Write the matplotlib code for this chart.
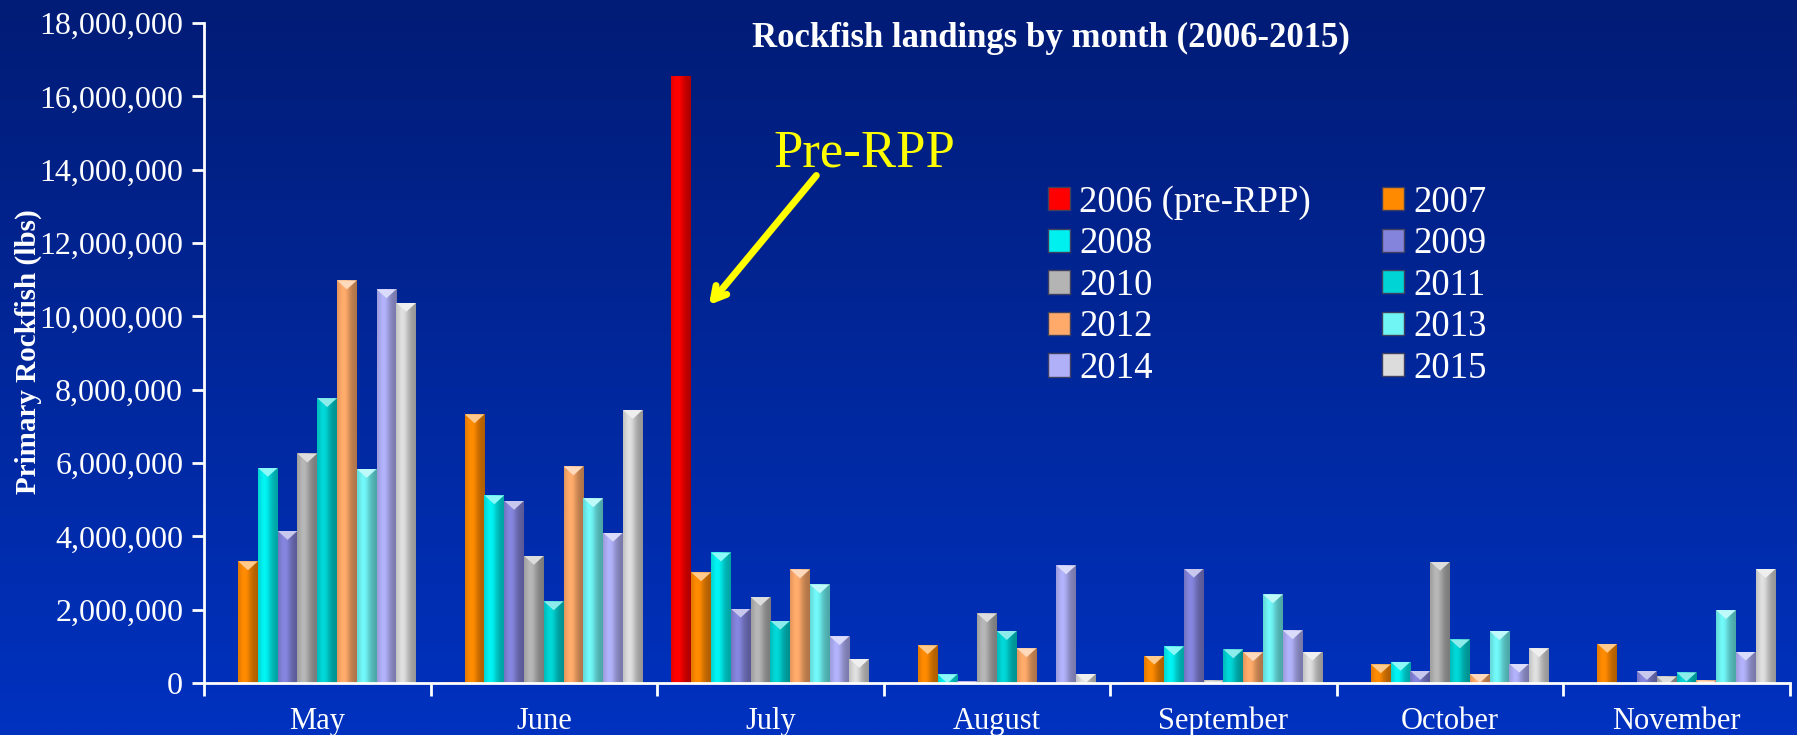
import numpy as np
import matplotlib
matplotlib.use("Agg")
import matplotlib.pyplot as plt
from matplotlib.patches import Patch, Polygon
from matplotlib.ticker import FuncFormatter, FixedLocator
from matplotlib.colors import to_rgb

plt.rcParams['font.family'] = ['Liberation Serif', 'DejaVu Serif']

months = ["May", "June", "July", "August", "September", "October", "November"]
years = ["2006 (pre-RPP)", "2007", "2008", "2009", "2010",
         "2011", "2012", "2013", "2014", "2015"]
colors = ["#ff0000", "#ff8a00", "#00f0f0", "#8484dc", "#b4b4b4",
          "#00d4d4", "#ffaa6a", "#70f4f4", "#b0b0f8", "#dcdcdc"]

# landings (lbs), one list per year, values by month May..November
y2006 = [15000, 15000, 16550000, 15000, 15000, 15000, 0]
y2007 = [3320000, 7330000, 3020000, 1030000, 750000, 510000, 1070000]
y2008 = [5870000, 5120000, 3560000, 240000, 1000000, 580000, 0]
y2009 = [4150000, 4970000, 2030000, 50000, 3120000, 330000, 330000]
y2010 = [6260000, 3470000, 2350000, 1900000, 70000, 3310000, 180000]
y2011 = [7770000, 2230000, 1700000, 1420000, 920000, 1190000, 290000]
y2012 = [10980000, 5910000, 3100000, 950000, 840000, 250000, 70000]
y2013 = [5840000, 5040000, 2690000, 0, 2420000, 1420000, 1990000]
y2014 = [10740000, 4100000, 1280000, 3210000, 1440000, 530000, 860000]
y2015 = [10370000, 7450000, 660000, 250000, 860000, 950000, 3110000]
series = [y2006, y2007, y2008, y2009, y2010, y2011, y2012, y2013, y2014, y2015]

fig = plt.figure(figsize=(17.97, 7.35), dpi=100)

# background gradient
bg = fig.add_axes([0, 0, 1, 1], zorder=-10)
top_c = np.array([2, 28, 118]) / 255
bot_c = np.array([0, 50, 192]) / 255
t = np.linspace(0, 1, 256)[:, None]
grad = top_c[None, :] * (1 - t) + bot_c[None, :] * t
bg.imshow(grad[:, None, :], aspect='auto', extent=[0, 1, 0, 1])
bg.axis('off')

ax = fig.add_axes([0.1135, 0.0707, 0.8825, 0.898])
ax.set_facecolor('none')
ymax = 18000000
ax.set_xlim(-0.5, len(months) - 0.5)
ax.set_ylim(0, ymax)

x = np.arange(len(months))
w = 0.0873
n = len(series)
shade = np.linspace(0, 1, 64)
bevel = ymax * 9 / 660  # ~9 px deep cap
for i, (vals, c) in enumerate(zip(series, colors)):
    pos = x + (i - (n - 1) / 2) * w
    bars = ax.bar(pos, vals, width=w, color=c, edgecolor='none', zorder=2)
    base = np.array(to_rgb(c))
    # horizontal shading to fake the 3D look
    prof = 0.82 + 0.25 * np.exp(-((shade - 0.35) / 0.3) ** 2) - 0.14 * shade
    img = np.clip(base[None, :] * prof[:, None], 0, 1)[None, :, :]
    light = base + (1 - base) * 0.55
    for b in bars:
        h = b.get_height()
        if h <= 0:
            continue
        bx, bw = b.get_x(), b.get_width()
        im = ax.imshow(img, extent=[bx, bx + bw, 0, h],
                       aspect='auto', zorder=3, interpolation='bilinear')
        im.set_clip_path(b)
        if i > 0:
            tri = Polygon([[bx, h], [bx + bw, h], [bx + bw / 2, h - bevel]],
                          closed=True, facecolor=light, edgecolor='none', zorder=4)
            ax.add_patch(tri)
            tri.set_clip_path(b)

ax.yaxis.set_major_locator(FixedLocator(np.arange(0, ymax + 1, 2000000)))
ax.yaxis.set_major_formatter(FuncFormatter(lambda v, p: f"{int(v):,}"))

ax.set_xticks(x)
ax.set_xticklabels(months)
ax.xaxis.set_minor_locator(FixedLocator(np.arange(-0.5, len(months), 1.0)))
ax.tick_params(axis='x', which='major', length=0, pad=17, labelsize=22, colors='white')
ax.tick_params(axis='x', which='minor', length=9, width=2, direction='out', color='white')
ax.tick_params(axis='y', length=9, width=2, direction='out', color='white',
               labelcolor='white', labelsize=23, pad=6)

for s in ['top', 'right']:
    ax.spines[s].set_visible(False)
for s in ['left', 'bottom']:
    ax.spines[s].set_color('white')
    ax.spines[s].set_linewidth(2)
    ax.spines[s].set_zorder(5)

fig.text(0.0155, 0.521, "Primary Rockfish (lbs)", rotation=90, color='white',
         fontsize=21, fontweight='bold', ha='center', va='center')
fig.text(0.585, 0.948, "Rockfish landings by month (2006-2015)", color='white',
         fontsize=25, fontweight='bold', ha='center', va='center')

# annotation pointing at the 2006 July bar
jul = months.index("July")
bar_right = jul + (0 - (n - 1) / 2) * w + w / 2
ax.annotate("", xy=(bar_right + 0.07, 10250000), xytext=(bar_right + 0.56, 13900000),
            arrowprops=dict(arrowstyle='->,head_length=0.9,head_width=0.5',
                            color='#ffff00', lw=5), zorder=6)
ax.text(bar_right + 0.765, 14450000, "Pre-RPP", color='#ffff00', fontsize=38,
        ha='center', va='center', zorder=6)

handles = [Patch(facecolor=c, edgecolor='#404060', linewidth=1) for c in colors]
order = list(range(0, n, 2)) + list(range(1, n, 2))
leg = fig.legend([handles[k] for k in order], [years[k] for k in order], ncol=2,
                 loc='upper left', bbox_to_anchor=(0.583, 0.748), frameon=False,
                 fontsize=26.5, handlelength=0.6, handleheight=0.6,
                 handletextpad=0.25, columnspacing=1.93, labelspacing=0.19,
                 borderaxespad=0, borderpad=0)
for txt in leg.get_texts():
    txt.set_color('white')

fig.savefig("out.png", dpi=100)
